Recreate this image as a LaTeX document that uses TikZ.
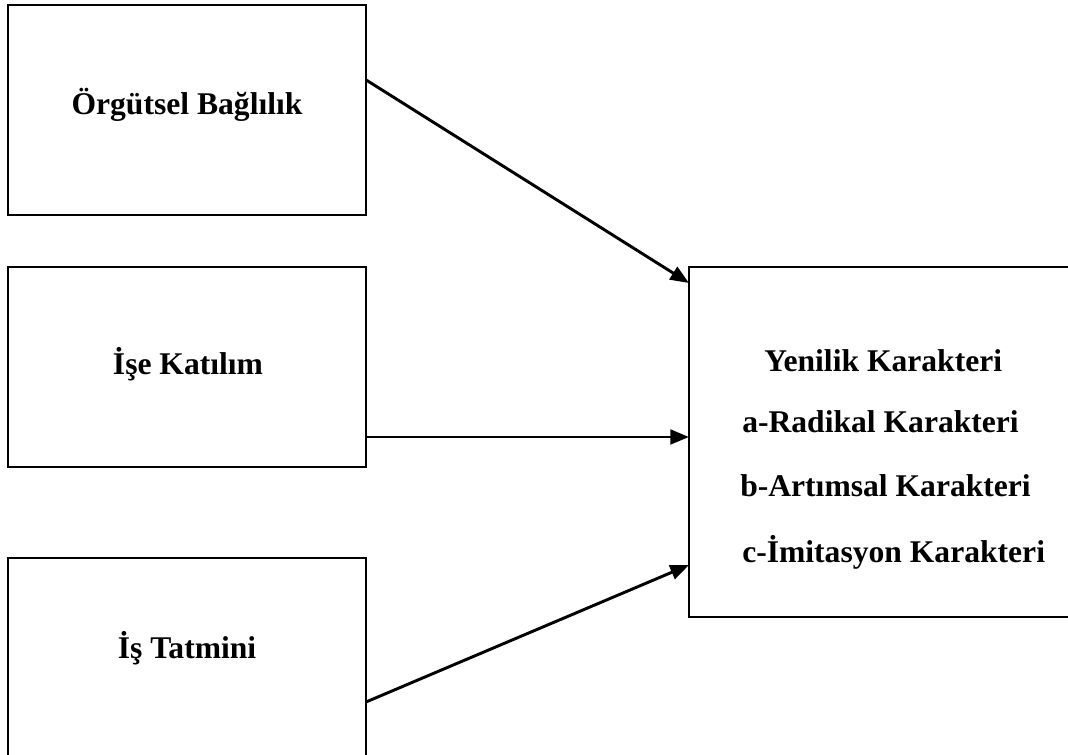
\documentclass[tikz,border=0pt]{standalone}
\usepackage{fontspec}
\setmainfont{Liberation Serif}
\usetikzlibrary{arrows.meta, positioning}

\begin{document}
\begin{tikzpicture}[
    x=0.75pt, y=-0.75pt,
    kutu/.style={draw, line width=1.5pt, anchor=north west, inner sep=0pt, outer sep=0pt},
    etiket/.style={anchor=base, inner sep=0pt, font=\fontsize{23.7}{28}\selectfont\bfseries},
    sagetiket/.style={anchor=base west, inner sep=0pt, font=\fontsize{23.7}{28}\selectfont\bfseries},
    ok/.style={-{Triangle[length=14pt, width=11pt]}, line width=2.2pt}
]
    \clip (0,0) rectangle (1068,755);

    % Kutular
    \node[kutu, minimum width=268.5pt, minimum height=157pt] (orgut) at (8,5.5) {};
    \node[kutu, minimum width=268.5pt, minimum height=150pt] (ise) at (8,267) {};
    \node[kutu, minimum width=268.5pt, minimum height=150pt] (is) at (8,558) {};
    \node[kutu, minimum width=300pt, minimum height=262.5pt] (yenilik) at (689,267) {};

    % Yazilar
    \node[etiket] (orgutyazi) at (187,115) {Örgütsel Bağlılık};
    \node[etiket] (iseyazi) at (188,375) {İşe Katılım};
    \node[etiket] (isyazi) at (187,658) {İş Tatmini};
    \node[sagetiket] (yenilikyazi) at (764,372) {Yenilik Karakteri};
    \node[sagetiket] (radikal) at (742,433) {a-Radikal Karakteri};
    \node[sagetiket] (artimsal) at (740,497) {b-Artımsal Karakteri};
    \node[sagetiket] (imitasyon) at (742,562) {c-İmitasyon Karakteri};

    % Oklar
    \draw[ok] ([yshift=22.7pt]orgut.east) -- ([yshift=119.25pt]yenilik.west);
    \draw[ok] ([yshift=-52.5pt]ise.east) -- ([yshift=3.75pt]yenilik.west);
    \draw[ok] ([yshift=-33pt]is.east) -- ([yshift=-92.25pt]yenilik.west);
\end{tikzpicture}
\end{document}
